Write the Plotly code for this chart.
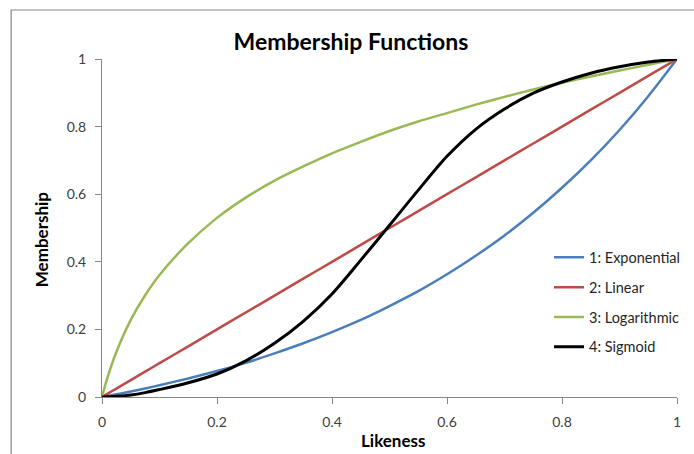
import plotly.graph_objects as go

# Likeness sample points shared by all four membership curves
likeness = [0, 0.01, 0.025, 0.05, 0.075, 0.1, 0.15, 0.2, 0.25, 0.3, 0.35, 0.4,
            0.45, 0.5, 0.55, 0.6, 0.65, 0.7, 0.75, 0.8, 0.85, 0.9, 0.95, 1]

exponential = [0, 0.003, 0.008, 0.016, 0.025, 0.035, 0.055, 0.077, 0.101, 0.129,
               0.159, 0.192, 0.228, 0.269, 0.313, 0.363, 0.418, 0.478, 0.545,
               0.619, 0.700, 0.790, 0.890, 1]
linear = [0, 0.01, 0.025, 0.05, 0.075, 0.1, 0.15, 0.2, 0.25, 0.3, 0.35, 0.4,
          0.45, 0.5, 0.55, 0.6, 0.65, 0.7, 0.75, 0.8, 0.85, 0.9, 0.95, 1]
logarithmic = [0, 0.060, 0.133, 0.228, 0.301, 0.361, 0.455, 0.530, 0.590, 0.640,
               0.682, 0.721, 0.755, 0.787, 0.815, 0.840, 0.865, 0.888, 0.910,
               0.930, 0.948, 0.966, 0.983, 1]
sigmoid = [0, 0.0005, 0.002, 0.006, 0.013, 0.022, 0.042, 0.068, 0.107, 0.159,
           0.224, 0.305, 0.405, 0.508, 0.612, 0.712, 0.792, 0.852, 0.899, 0.932,
           0.958, 0.977, 0.991, 1]

series_names = ["1: Exponential", "2: Linear", "3: Logarithmic", "4: Sigmoid"]
series_values = [exponential, linear, logarithmic, sigmoid]
series_colors = ["#4A7EBB", "#BE4B48", "#98B954", "#000000"]
series_widths = [2.5, 2.5, 2.5, 3]

tick_vals = [0, 0.2, 0.4, 0.6, 0.8, 1]
tick_text = ["0", "0.2", "0.4", "0.6", "0.8", "1"]

FONT = "Lato"
AXIS_GREY = "#868686"

fig = go.Figure()
for name, vals, color, width in zip(series_names, series_values, series_colors, series_widths):
    fig.add_trace(go.Scatter(
        x=likeness, y=vals, name=name, mode="lines",
        line=dict(color=color, width=width, shape="spline", smoothing=0.8),
        legendgroup=name,
    ))

axis_common = dict(
    range=[0, 1], tickvals=tick_vals, ticktext=tick_text,
    showgrid=False, zeroline=False, showline=True,
    linecolor=AXIS_GREY, linewidth=1,
    ticks="outside", ticklen=6, tickcolor=AXIS_GREY, tickwidth=1,
    tickfont=dict(family=FONT, size=14, color="#404040"),
    fixedrange=True,
)

fig.update_layout(
    width=694, height=454,
    margin=dict(l=102, r=17, t=59, b=57, autoexpand=False),
    paper_bgcolor="white", plot_bgcolor="white",
    showlegend=True,
    legend=dict(
        x=0.7774, xanchor="left", y=0.28, yanchor="middle",
        font=dict(family=FONT, size=14.5, color="#262626"),
        traceorder="grouped", tracegroupgap=8,
        bgcolor="rgba(0,0,0,0)", itemwidth=30,
    ),
    title=dict(
        text="<b>Membership Functions</b>",
        font=dict(family=FONT, size=23, color="#000000"),
        xref="paper", x=0.433, xanchor="center",
        yref="container", y=0.908, yanchor="middle",
    ),
    xaxis=dict(**axis_common, ticklabelstandoff=6),
    yaxis=dict(**axis_common, ticklabelstandoff=6),
)

# Axis titles
fig.add_annotation(
    text="<b>Likeness</b>", xref="paper", yref="paper", x=0.506, y=-0.13,
    showarrow=False, xanchor="center", yanchor="middle",
    font=dict(family=FONT, size=17, color="#000000"),
)
fig.add_annotation(
    text="<b>Membership</b>", xref="paper", yref="paper", x=-0.106, y=0.467,
    showarrow=False, xanchor="center", yanchor="middle", textangle=-90,
    font=dict(family=FONT, size=17, color="#000000"),
)

# Chart-area border
fig.add_shape(
    type="rect", xref="paper", yref="paper",
    x0=-0.158, y0=-0.4, x1=1.2, y1=1.145,
    line=dict(color=AXIS_GREY, width=1.2), fillcolor="rgba(0,0,0,0)",
    layer="below",
)

fig.write_html("out.html")
